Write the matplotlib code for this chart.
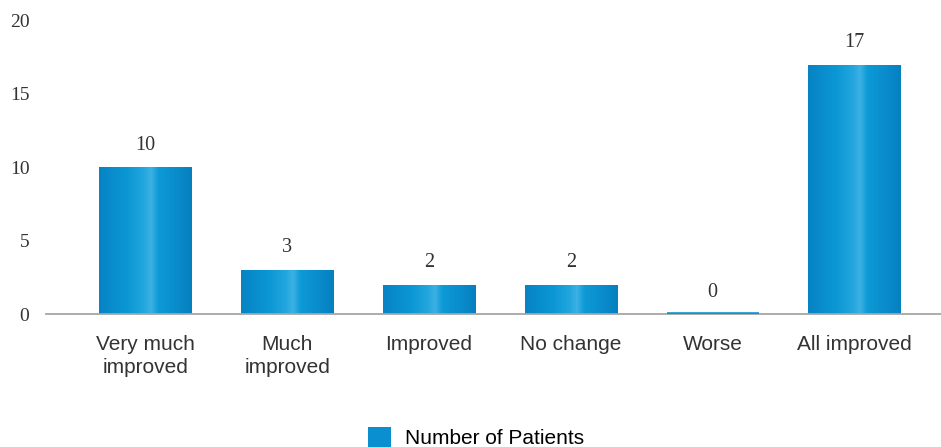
import numpy as np
import matplotlib
matplotlib.use("Agg")
import matplotlib.pyplot as plt
from matplotlib.colors import LinearSegmentedColormap
from matplotlib.patches import Patch

# data
categories = ["Very much\nimproved", "Much\nimproved", "Improved", "No change", "Worse", "All improved"]
patients = [10, 3, 2, 2, 0, 17]
yticks = [0, 5, 10, 15, 20]
series_name = "Number of Patients"

# horizontal gradient used for every bar
grad = LinearSegmentedColormap.from_list("bar", [
    (0.0, "#0783c4"), (0.3, "#0b97d4"), (0.48, "#22a6de"),
    (0.56, "#3cb1e4"), (0.64, "#0d9ad6"), (0.85, "#0a8bcb"), (1.0, "#0580bf"),
])

fig = plt.figure(figsize=(9.41, 4.47), dpi=100)
ax = fig.add_axes([0.0489, 0.2975, 0.9511, 0.7025])

x = np.arange(len(categories))
bars = ax.bar(x, patients, width=0.65, color="#0a8fd0", linewidth=0, zorder=2)

ax.set_xlim(-0.70, 5.61)
ax.set_ylim(0, 21.4)

# paint gradient into each bar
g = np.linspace(0, 1, 256).reshape(1, -1)
for b, v in zip(bars, patients):
    if v == 0:
        # zero bar still shows as a thin blue line on the axis
        b.set_edgecolor("#0a92d2")
        b.set_linewidth(2.6)
        b.set_zorder(5)
        continue
    bx, bw, bh = b.get_x(), b.get_width(), b.get_height()
    im = ax.imshow(g, cmap=grad, aspect="auto", extent=(bx, bx + bw, 0, bh),
                   zorder=3, interpolation="bilinear")
    im.set_clip_path(b)

# value labels
for xi, v in zip(x, patients):
    ax.annotate(str(v), (xi, v), xytext=(0, 9), textcoords="offset points",
                ha="center", va="bottom", fontsize=14.5, color="#333333",
                family="Liberation Serif")

ax.set_xticks(x)
ax.set_xticklabels(categories, fontsize=15, color="#333333",
                   family="Liberation Sans", linespacing=1.3)
ax.set_yticks(yticks)
ax.set_yticklabels([str(t) for t in yticks], fontsize=14, color="#333333",
                   family="Liberation Serif")
ax.tick_params(axis="x", length=0, pad=15)
ax.tick_params(axis="y", length=0, pad=12)

for s in ["top", "right", "left"]:
    ax.spines[s].set_visible(False)
ax.spines["bottom"].set_color("#a6a6a6")
ax.spines["bottom"].set_linewidth(1.3)
ax.spines["bottom"].set_zorder(4)

fig.legend(handles=[Patch(facecolor="#0a8fd0", edgecolor="none", label=series_name)],
           loc="center", bbox_to_anchor=(0.506, 0.022), frameon=False,
           prop={"family": "Liberation Sans", "size": 15},
           handlelength=1.1, handleheight=1.1, handletextpad=0.65)

fig.savefig("out.png", dpi=100)
